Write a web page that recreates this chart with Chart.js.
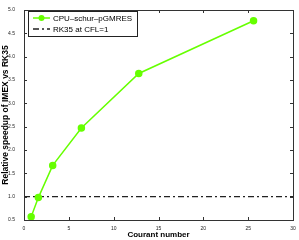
<!DOCTYPE html>
<html>
<head>
<meta charset="utf-8">
<script src="https://cdn.jsdelivr.net/npm/chart.js@4"></script>
<style>
  html, body { margin: 0; padding: 0; background: #fff; }
  #wrap { width: 299px; height: 240px; }
</style>
</head>
<body>
<div id="wrap"><canvas id="c" width="299" height="240"></canvas></div>
<script>
// data
const courant = [0.8, 1.6, 3.2, 6.4, 12.8, 25.6];
const speedup = [0.57, 0.98, 1.67, 2.47, 3.64, 4.77];
const refX = [0, 30];
const refY = [1, 1];
const xTicks = [0, 5, 10, 15, 20, 25, 30];
const yTicks = [0.5, 1, 1.5, 2, 2.5, 3, 3.5, 4, 4.5, 5];

const green = 'rgb(102,255,0)';
const FONT = '"Liberation Sans", Arial, sans-serif';

// box around the plot with inward ticks, matlab style
const framePlugin = {
  id: 'frame',
  afterDatasetsDraw(chart) {
    const ctx = chart.ctx;
    const a = chart.chartArea;
    const xs = chart.scales.x, ys = chart.scales.y;
    ctx.save();
    ctx.strokeStyle = '#333';
    ctx.lineWidth = 1;
    ctx.beginPath();
    xTicks.forEach(v => {
      const px = Math.round(xs.getPixelForValue(v)) + 0.5;
      ctx.moveTo(px, a.bottom); ctx.lineTo(px, a.bottom - 3);
      ctx.moveTo(px, a.top); ctx.lineTo(px, a.top + 3);
    });
    yTicks.forEach(v => {
      const py = Math.round(ys.getPixelForValue(v)) + 0.5;
      ctx.moveTo(a.left, py); ctx.lineTo(a.left + 3, py);
      ctx.moveTo(a.right, py); ctx.lineTo(a.right - 3, py);
    });
    ctx.stroke();
    ctx.strokeRect(Math.round(a.left) + 0.5, Math.round(a.top) + 0.5,
                   Math.round(a.right - a.left), Math.round(a.bottom - a.top));
    ctx.restore();
  }
};

// legend drawn inside the axes, top-left
const insideLegend = {
  id: 'insideLegend',
  afterDraw(chart) {
    const ctx = chart.ctx;
    const a = chart.chartArea;
    const x0 = a.left + 4, y0 = a.top + 1;
    const w = 109, h = 25;
    ctx.save();
    ctx.fillStyle = '#fff';
    ctx.fillRect(x0, y0, w, h);
    ctx.strokeStyle = '#222';
    ctx.lineWidth = 1;
    ctx.strokeRect(x0 + 0.5, y0 + 0.5, w, h);
    ctx.font = '8px ' + FONT;
    ctx.textBaseline = 'middle';
    chart.data.datasets.forEach((ds, i) => {
      const cy = y0 + 7 + i * 11;
      ctx.strokeStyle = ds.borderColor;
      ctx.lineWidth = ds.borderWidth;
      ctx.setLineDash(ds.borderDash || []);
      ctx.beginPath();
      ctx.moveTo(x0 + 5, cy); ctx.lineTo(x0 + 22, cy);
      ctx.stroke();
      ctx.setLineDash([]);
      if (ds.pointRadius > 0) {
        ctx.fillStyle = ds.pointBackgroundColor;
        ctx.beginPath();
        ctx.arc(x0 + 13.5, cy, 3, 0, Math.PI * 2);
        ctx.fill();
      }
      ctx.fillStyle = '#000';
      ctx.fillText(ds.label, x0 + 25, cy + 0.5);
    });
    ctx.restore();
  }
};

new Chart(document.getElementById('c'), {
  type: 'scatter',
  data: {
    datasets: [{
      label: 'CPU\u2013schur\u2013pGMRES',
      data: courant.map((x, i) => ({ x: x, y: speedup[i] })),
      showLine: true,
      borderColor: green,
      borderWidth: 1.5,
      pointRadius: 3,
      pointStyle: 'circle',
      pointBackgroundColor: green,
      pointBorderColor: green
    }, {
      label: 'RK35 at CFL=1',
      data: refX.map((x, i) => ({ x: x, y: refY[i] })),
      showLine: true,
      borderColor: '#222',
      borderWidth: 1.3,
      borderDash: [6, 3, 2, 3],
      pointRadius: 0,
      pointBackgroundColor: '#222'
    }]
  },
  options: {
    responsive: false,
    animation: false,
    layout: { padding: { top: 10, right: 6, left: 0, bottom: 0 } },
    plugins: { legend: { display: false }, tooltip: { enabled: false } },
    scales: {
      x: {
        type: 'linear', min: 0, max: 30,
        afterBuildTicks: s => { s.ticks = xTicks.map(v => ({ value: v })); },
        afterFit: s => { s.height = 20; },
        grid: { display: false },
        border: { display: false },
        ticks: { font: { size: 5, family: FONT }, color: '#222', padding: -2, maxRotation: 0 },
        title: { display: true, text: 'Courant number', font: { size: 8, weight: 'bold', family: FONT }, color: '#000', padding: { top: 1, bottom: 0 } }
      },
      y: {
        type: 'linear', min: 0.5, max: 5,
        afterBuildTicks: s => { s.ticks = yTicks.map(v => ({ value: v })); },
        afterFit: s => { s.width = 24; },
        grid: { display: false },
        border: { display: false },
        ticks: { font: { size: 5, family: FONT }, color: '#222', padding: 1 },
        title: { display: true, text: 'Relative speedup of IMEX vs RK35', font: { size: 8.5, weight: 'bold', family: FONT }, color: '#000', padding: { top: 1, bottom: 0 } }
      }
    }
  },
  plugins: [framePlugin, insideLegend]
});
</script>
</body>
</html>
